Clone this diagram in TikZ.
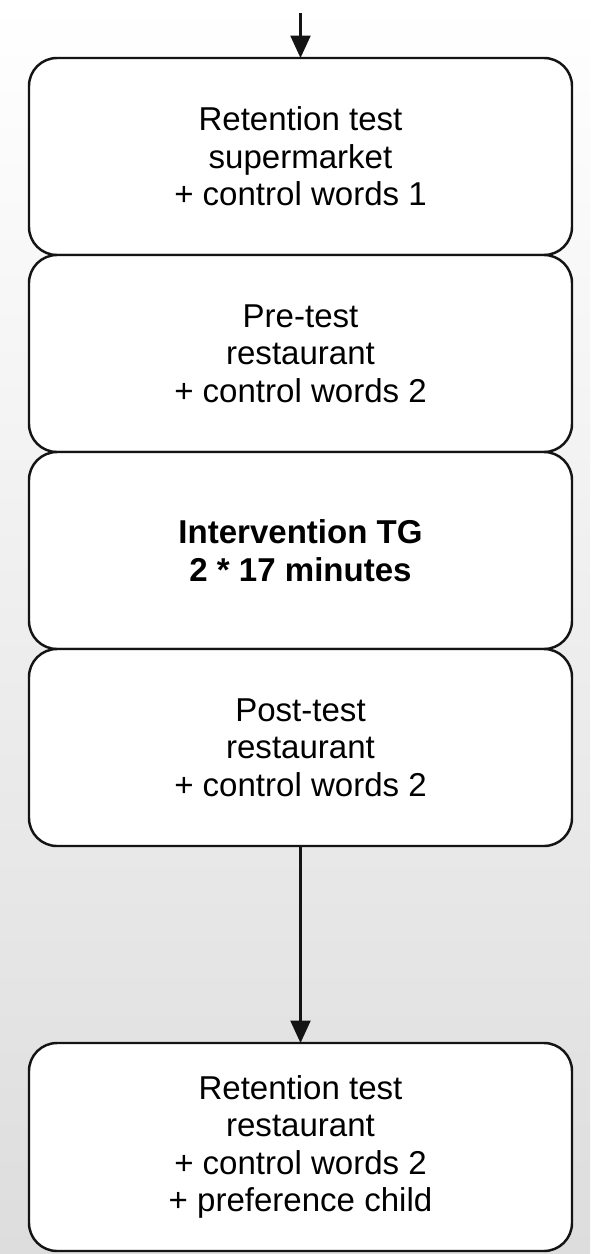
\documentclass[tikz,border=0pt]{standalone}
\usepackage{fontspec}
\setmainfont{Liberation Sans}
\usepackage{tikz}
\usetikzlibrary{arrows.meta, positioning}

\definecolor{bggray}{RGB}{221,221,221}
\definecolor{linegray}{RGB}{20,20,20}

\begin{document}
\begin{tikzpicture}[
    font=\fontsize{18.8}{21.3}\selectfont,
    stage/.style={draw=linegray, line width=1.4pt, fill=white,
      rounded corners=0.56cm, align=center,
      minimum width=10.86cm, minimum height=3.94cm,
      inner sep=0pt, outer sep=0pt},
    flow/.style={-{Triangle[width=0.4cm, length=0.45cm]},
      line width=1.4pt, draw=linegray}
  ]
  \useasboundingbox (0,0) rectangle (11.8,-25.08);
  \shade[top color=white, bottom color=bggray] (0,0) rectangle (11.8,-25.08);

  % stacked stages
  \node[stage] (retsuper) at (6.01,-3.13)
    {Retention test\\supermarket\\+ control words 1};
  \node[stage, below=0pt of retsuper] (pretest)
    {Pre-test\\restaurant\\+ control words 2};
  \node[stage, below=0pt of pretest] (interv)
    {\textbf{Intervention TG}\\\textbf{2 * 17 minutes}};
  \node[stage, below=0pt of interv] (posttest)
    {Post-test\\restaurant\\+ control words 2};

  % final stage after the gap
  \node[stage, minimum height=4.16cm, below=3.94cm of posttest] (retrest)
    {Retention test\\restaurant\\+ control words 2\\+ preference child};

  % connectors
  \coordinate[above=0.9cm of retsuper.north] (start);
  \draw[flow] (start) -- (retsuper.north);
  \draw[flow] (posttest.south) -- (retrest.north);
\end{tikzpicture}
\end{document}
